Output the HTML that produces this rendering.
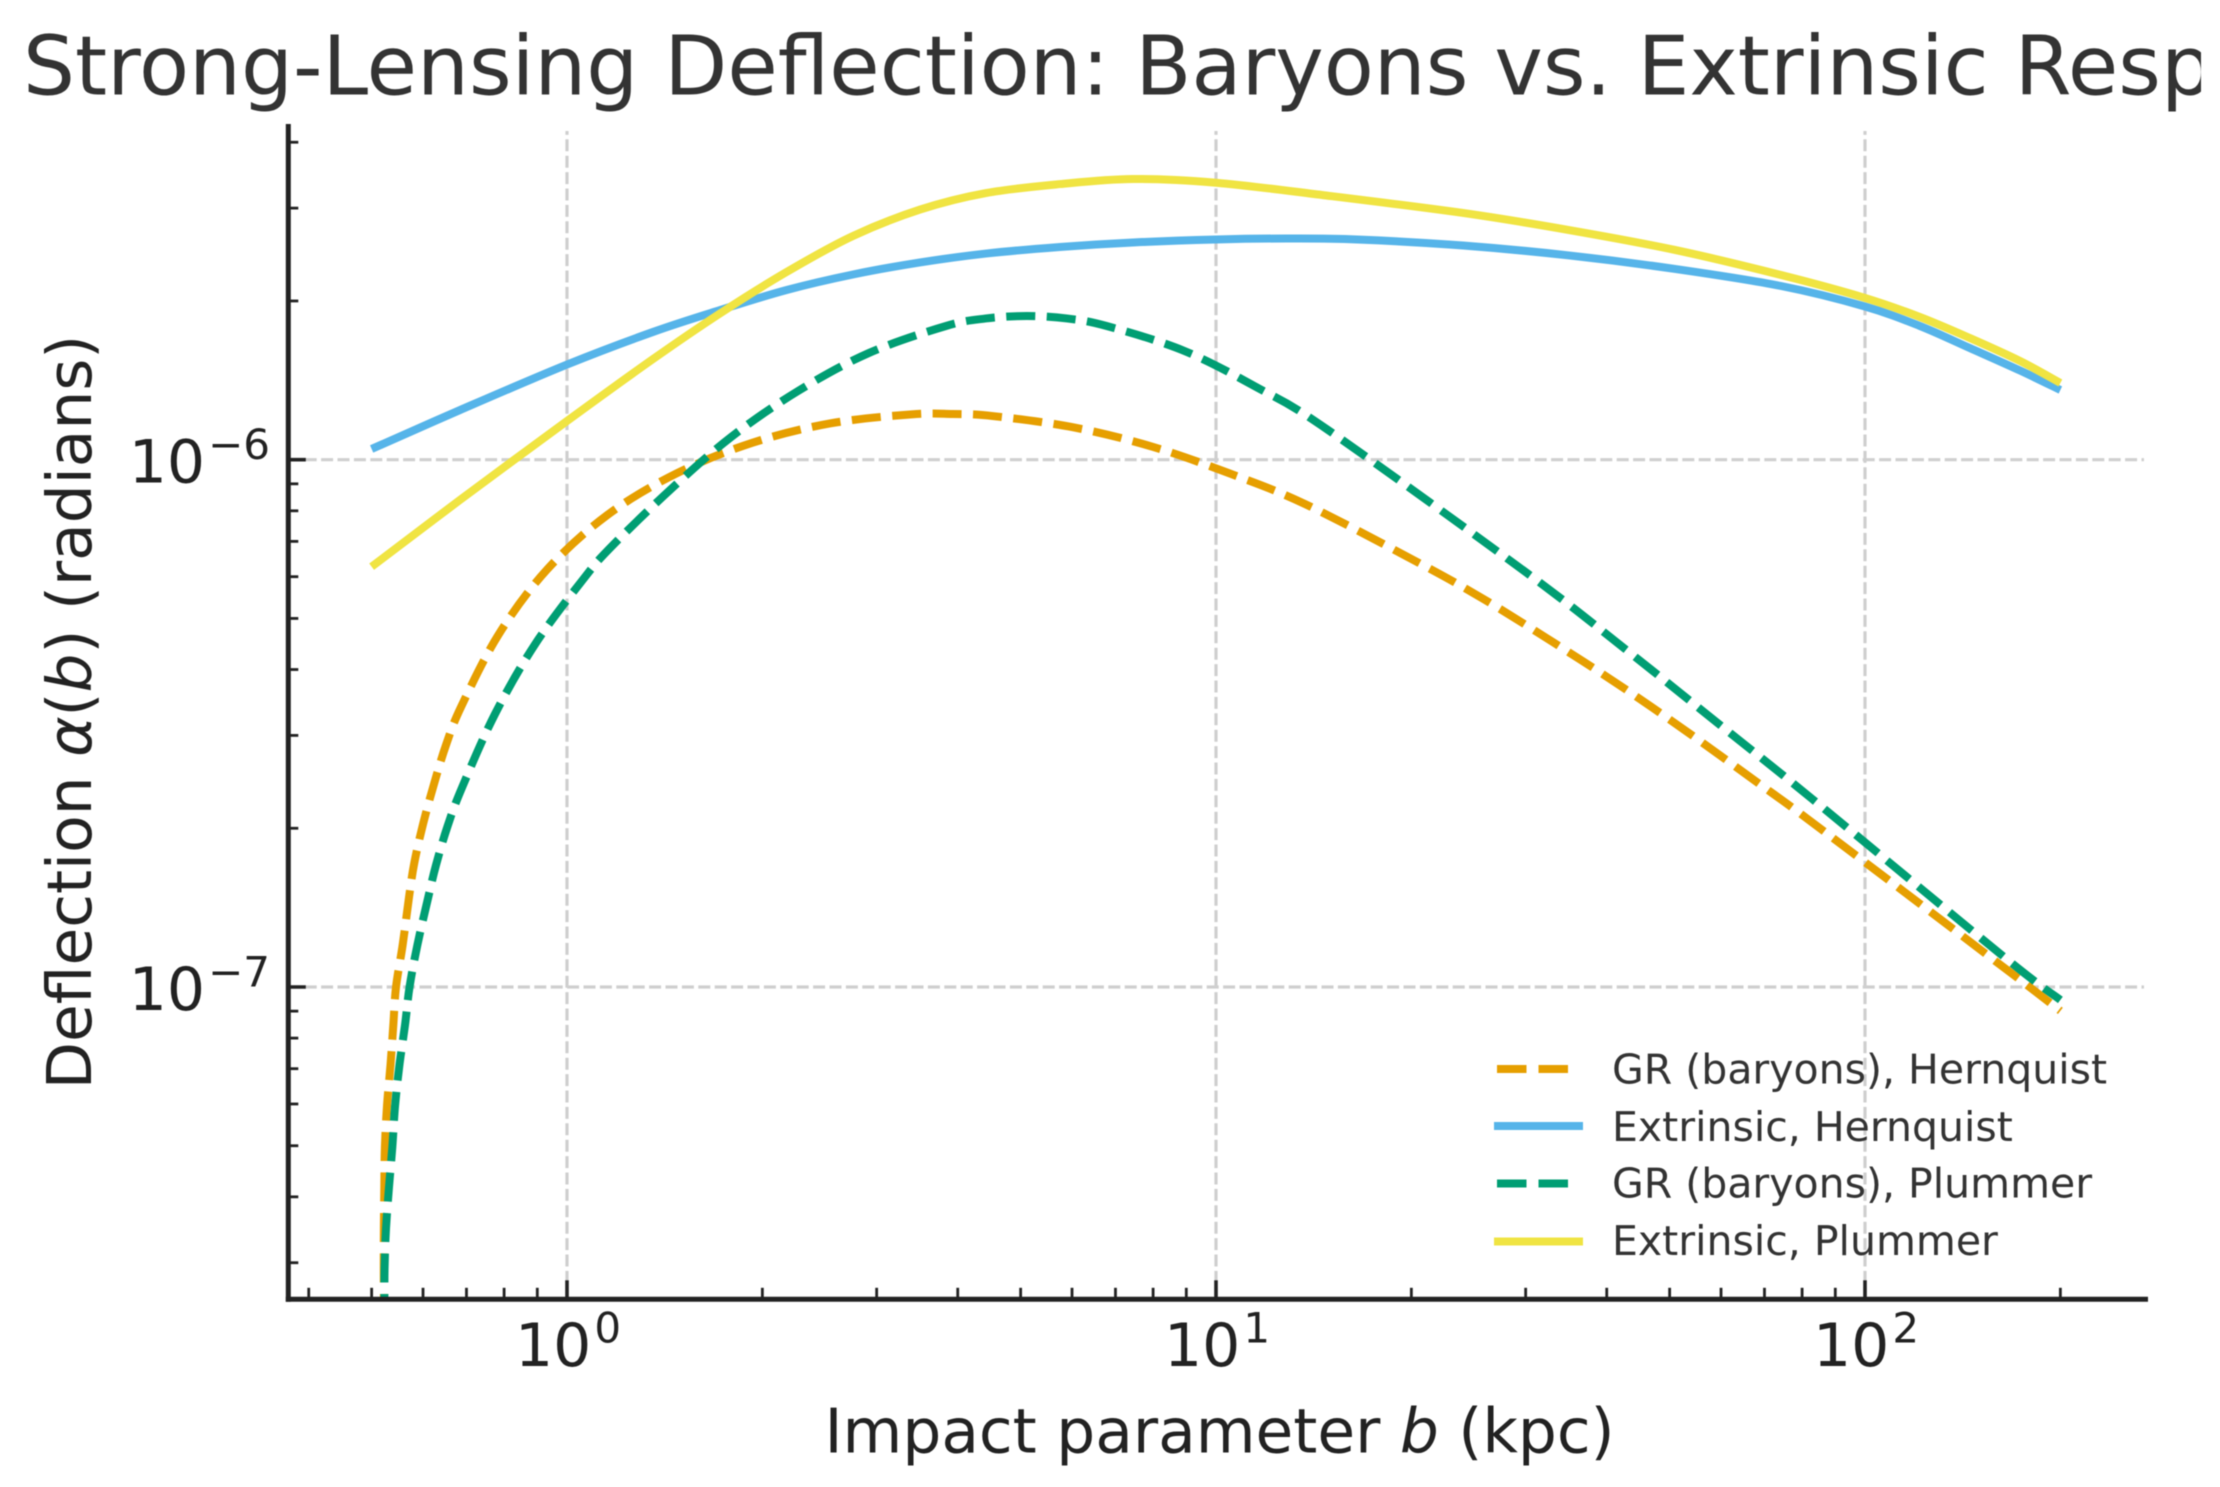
<!DOCTYPE html>
<html lang="en">
<head>
<meta charset="utf-8">
<title>Strong-Lensing Deflection</title>
<style>
html,body{margin:0;padding:0;background:#fff;}
body{width:2220px;height:1487px;overflow:hidden;}
svg{display:block;filter:blur(0.55px);}
text{font-family:"DejaVu Sans","Liberation Sans",sans-serif;}
</style>
</head>
<body>
<svg id="chart" xmlns="http://www.w3.org/2000/svg" width="2220" height="1487" viewBox="0 0 2220 1487">
  <rect x="0" y="0" width="2220" height="1487" fill="#ffffff"/>
  <defs>
    <clipPath id="axes-clip"><rect x="288" y="124" width="1860" height="1175"/></clipPath>
    <clipPath id="title-clip"><rect x="0" y="0" width="2201" height="124"/></clipPath>
  </defs>
  <g clip-path="url(#title-clip)">
    <text x="23" y="94.5" font-size="81.9" fill="#333333">Strong-Lensing Deflection: Baryons vs. Extrinsic Response</text>
  </g>
  <g id="grid"></g>
  <g id="series" clip-path="url(#axes-clip)"></g>
  <g id="ticks"></g>
  <line x1="288.3" y1="124" x2="288.3" y2="1301.8" stroke="#222222" stroke-width="5"/>
  <line x1="285.8" y1="1299.3" x2="2148" y2="1299.3" stroke="#222222" stroke-width="5"/>
  <text x="1219.5" y="1452.5" text-anchor="middle" font-size="61.4" fill="#222222">Impact parameter <tspan font-style="italic">b</tspan> (kpc)</text>
  <text transform="translate(91 712) rotate(-90)" text-anchor="middle" font-size="61.4" fill="#222222">Deflection <tspan font-style="italic">α</tspan>(<tspan font-style="italic">b</tspan>) (radians)</text>
  <g>
    <g>
      <line x1="1497" y1="1069" x2="1568" y2="1069" stroke="#E69F00" stroke-width="8" stroke-dasharray="29.5 12"/>
      <text x="1612" y="1083.7" font-size="41" fill="#333333">GR (baryons), Hernquist</text>
    </g>
    <g>
      <line x1="1494" y1="1126" x2="1583" y2="1126" stroke="#56B4E9" stroke-width="8"/>
      <text x="1612" y="1140.8" font-size="41" fill="#333333">Extrinsic, Hernquist</text>
    </g>
    <g>
      <line x1="1497" y1="1183.5" x2="1568" y2="1183.5" stroke="#009E73" stroke-width="8" stroke-dasharray="29.5 12"/>
      <text x="1612" y="1197.6" font-size="41" fill="#333333">GR (baryons), Plummer</text>
    </g>
    <g>
      <line x1="1494" y1="1241.5" x2="1583" y2="1241.5" stroke="#F0E442" stroke-width="8"/>
      <text x="1612" y="1254.8" font-size="41" fill="#333333">Extrinsic, Plummer</text>
    </g>
  </g>
</svg>
<script>
// Impact parameter b in kpc; deflection alpha in units of 1e-6 radians.
var alphaUnit = 1e-6;

var grHernquistB = [0.5224,0.5220,0.5222,0.5230,0.5241,0.5280,0.5346,0.5400,0.5452,0.5582,0.5710,0.5817,0.6006,0.6239,0.6510,0.6866,0.7838,0.9305,1.154,1.476,1.932,2.548,3.397,3.924,4.529,6.028,7.988,10.48,13.71,20.38,25.88,33.08,42.18,53.43,67.69,85.24,170.0,200];
var grHernquistAlpha = [0.02306,0.02933,0.03491,0.04176,0.04972,0.05946,0.07113,0.08473,0.1,0.1202,0.1482,0.1719,0.2046,0.2427,0.2877,0.3396,0.4652,0.6179,0.7855,0.9423,1.077,1.172,1.219,1.221,1.210,1.152,1.058,0.9423,0.8242,0.6405,0.5436,0.4505,0.3712,0.3036,0.2461,0.2000,0.1051,0.0901];

var extrinsicHernquistB = [0.5,0.684,1,1.357,1.721,2.180,2.758,3.499,4.421,5.750,7.45,10,12.86,16.50,24.02,34.98,50.96,74.25,100,121.5,145.1,173.3,200];
var extrinsicHernquistAlpha = [1.048,1.242,1.515,1.747,1.922,2.098,2.245,2.366,2.460,2.532,2.582,2.616,2.627,2.616,2.548,2.440,2.300,2.135,1.952,1.793,1.628,1.476,1.356];

var grPlummerB = [0.5232,0.5232,0.5235,0.5262,0.5318,0.5381,0.5433,0.5516,0.5629,0.5720,0.5882,0.6114,0.6283,0.6542,0.6883,0.7746,0.8949,1.062,1.168,1.441,1.790,2.270,2.920,3.837,4.421,5.109,5.888,6.785,8.927,11.55,14.81,29.94,42.27,59.21,82.96,163.8,200];
var grPlummerAlpha = [0.02306,0.02582,0.02933,0.03491,0.04176,0.04972,0.05946,0.07082,0.08473,0.1,0.1202,0.1482,0.1703,0.2014,0.2381,0.3294,0.4486,0.5958,0.6821,0.8760,1.104,1.350,1.594,1.793,1.853,1.873,1.853,1.793,1.609,1.372,1.143,0.6133,0.4419,0.3171,0.2272,0.1140,0.0945];

var extrinsicPlummerB = [0.5,0.684,1,1.357,1.721,2.180,2.758,3.499,4.421,5.750,7.45,10,14.57,24.02,34.98,50.96,74.25,100,121.5,145.1,173.3,200];
var extrinsicPlummerAlpha = [0.6267,0.8387,1.184,1.552,1.894,2.270,2.656,2.981,3.204,3.332,3.407,3.352,3.177,2.937,2.726,2.499,2.240,2.027,1.865,1.701,1.539,1.398];

var xMajorTicks = [1,10,100];
var xMajorExponents = ["0","1","2"];
var xMinorTicks = [0.4,0.5,0.6,0.7,0.8,0.9,2,3,4,5,6,7,8,9,20,30,40,50,60,70,80,90,200];
var yMajorTicks = [1e-6,1e-7];
var yMajorExponents = ["\u22126","\u22127"];
var yMinorTicks = [3e-8,4e-8,5e-8,6e-8,7e-8,8e-8,9e-8,2e-7,3e-7,4e-7,5e-7,6e-7,7e-7,8e-7,9e-7,2e-6,3e-6,4e-6];

var SVGNS = 'http://www.w3.org/2000/svg';
var AX_LEFT = 288.3, AX_RIGHT = 2144, AX_TOP = 131, AX_BOTTOM = 1299.3;

function xScale(b){ return 567 + 649 * Math.log10(b); }
function yScale(a){ return 459.7 + 527.3 * (-6 - Math.log10(a)); }

function smoothPath(xs, ys){
  var pts = xs.map(function(b, i){ return [xScale(b), yScale(ys[i] * alphaUnit)]; });
  var d = 'M' + pts[0][0].toFixed(2) + ' ' + pts[0][1].toFixed(2);
  for (var i = 0; i < pts.length - 1; i++) {
    var p0 = pts[Math.max(i - 1, 0)], p1 = pts[i], p2 = pts[i + 1], p3 = pts[Math.min(i + 2, pts.length - 1)];
    var c1x = p1[0] + (p2[0] - p0[0]) / 6, c1y = p1[1] + (p2[1] - p0[1]) / 6;
    var c2x = p2[0] - (p3[0] - p1[0]) / 6, c2y = p2[1] - (p3[1] - p1[1]) / 6;
    d += 'C' + c1x.toFixed(2) + ' ' + c1y.toFixed(2) + ' ' + c2x.toFixed(2) + ' ' + c2y.toFixed(2) + ' ' + p2[0].toFixed(2) + ' ' + p2[1].toFixed(2);
  }
  return d;
}

function makeLine(x1, y1, x2, y2, stroke, width, dash){
  var el = document.createElementNS(SVGNS, 'line');
  el.setAttribute('x1', x1);
  el.setAttribute('y1', y1);
  el.setAttribute('x2', x2);
  el.setAttribute('y2', y2);
  el.setAttribute('stroke', stroke);
  el.setAttribute('stroke-width', width);
  if (dash) el.setAttribute('stroke-dasharray', dash);
  return el;
}

function makePowerLabel(x, y, anchor, exponent){
  var t = document.createElementNS(SVGNS, 'text');
  t.setAttribute('x', x);
  t.setAttribute('y', y);
  t.setAttribute('text-anchor', anchor);
  t.setAttribute('font-size', '60');
  t.setAttribute('fill', '#222222');
  var base = document.createElementNS(SVGNS, 'tspan');
  base.textContent = '10';
  t.appendChild(base);
  var sup = document.createElementNS(SVGNS, 'tspan');
  sup.setAttribute('font-size', '42');
  sup.setAttribute('dy', '-23.5');
  sup.setAttribute('dx', '3');
  sup.textContent = exponent;
  t.appendChild(sup);
  return t;
}

var gridG = document.getElementById('grid');
var ticksG = document.getElementById('ticks');
var seriesG = document.getElementById('series');

xMajorTicks.forEach(function(v, i){
  var x = xScale(v);
  var g = makeLine(x, AX_BOTTOM, x, AX_TOP, '#cfcfcf', 3.2, '12 4.4');
  
  
  gridG.appendChild(g);
  var t = makeLine(x, AX_BOTTOM, x, AX_BOTTOM - 19, '#222222', 3.6);
  
  
  ticksG.appendChild(t);
  var lab = makePowerLabel(x + 1, 1366, 'middle', xMajorExponents[i]);
  
  
  ticksG.appendChild(lab);
});

xMinorTicks.forEach(function(v){
  var x = xScale(v);
  var t = makeLine(x, AX_BOTTOM, x, AX_BOTTOM - 11.5, '#222222', 2.8);
  
  
  ticksG.appendChild(t);
});

yMajorTicks.forEach(function(v, i){
  var y = yScale(v);
  var g = makeLine(AX_LEFT, y, AX_RIGHT, y, '#cfcfcf', 3.2, '12 4.4');
  
  
  gridG.appendChild(g);
  var t = makeLine(AX_LEFT, y, AX_LEFT + 17.5, y, '#222222', 3.6);
  
  
  ticksG.appendChild(t);
  var lab = makePowerLabel(270, y + 23, 'end', yMajorExponents[i]);
  
  
  ticksG.appendChild(lab);
});

yMinorTicks.forEach(function(v){
  var y = yScale(v);
  var t = makeLine(AX_LEFT, y, AX_LEFT + 10, y, '#222222', 2.8);
  
  
  ticksG.appendChild(t);
});

function addSeries(name, xs, ys, color, dash){
  var p = document.createElementNS(SVGNS, 'path');
  p.setAttribute('d', smoothPath(xs, ys));
  p.setAttribute('fill', 'none');
  p.setAttribute('stroke', color);
  p.setAttribute('stroke-width', '8');
  p.setAttribute('stroke-linejoin', 'round');
  if (dash) p.setAttribute('stroke-dasharray', dash);
  
  
  seriesG.appendChild(p);
}

addSeries('line-gr-hernquist', grHernquistB, grHernquistAlpha, '#E69F00', '29 11.5');
addSeries('line-extrinsic-hernquist', extrinsicHernquistB, extrinsicHernquistAlpha, '#56B4E9');
addSeries('line-gr-plummer', grPlummerB, grPlummerAlpha, '#009E73', '29 11.5');
addSeries('line-extrinsic-plummer', extrinsicPlummerB, extrinsicPlummerAlpha, '#F0E442');
</script>
</body>
</html>
